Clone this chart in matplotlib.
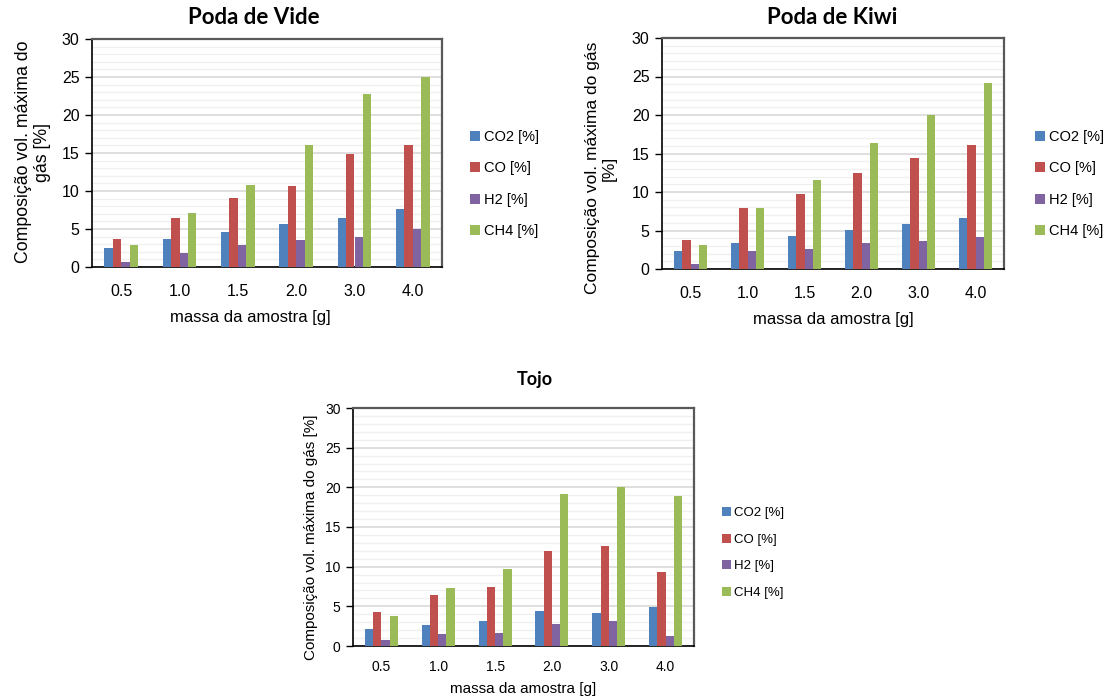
import numpy as np
import matplotlib.pyplot as plt

# massas das amostras (categorias do eixo x)
massas = ['0.5', '1.0', '1.5', '2.0', '3.0', '4.0']
gases = ['CO2 [%]', 'CO [%]', 'H2 [%]', 'CH4 [%]']
cores = ['#4F81BD', '#C0504D', '#8064A2', '#9BBB59']

# Poda de Vide
vide_co2 = [2.5, 3.7, 4.6, 5.7, 6.4, 7.6]
vide_co = [3.7, 6.4, 9.1, 10.7, 14.9, 16.1]
vide_h2 = [0.6, 1.8, 2.9, 3.5, 4.0, 5.0]
vide_ch4 = [2.9, 7.1, 10.8, 16.1, 22.8, 25.0]

# Poda de Kiwi
kiwi_co2 = [2.3, 3.4, 4.3, 5.1, 5.8, 6.6]
kiwi_co = [3.8, 7.9, 9.7, 12.5, 14.4, 16.1]
kiwi_h2 = [0.7, 2.4, 2.6, 3.4, 3.7, 4.1]
kiwi_ch4 = [3.1, 7.9, 11.6, 16.3, 20.0, 24.2]

# Tojo
tojo_co2 = [2.1, 2.6, 3.2, 4.4, 4.2, 4.9]
tojo_co = [4.3, 6.4, 7.4, 12.0, 12.6, 9.3]
tojo_h2 = [0.8, 1.5, 1.6, 2.8, 3.2, 1.3]
tojo_ch4 = [3.8, 7.3, 9.7, 19.1, 20.0, 18.9]

W, H = 1108, 699
plt.rcParams['font.family'] = ['Liberation Sans', 'DejaVu Sans']

fig = plt.figure(figsize=(W / 100, H / 100), dpi=100)


def px_axes(l, t, r, b):
    """Cria eixos a partir de coordenadas em pixeis (esq, topo, dir, baixo)."""
    return fig.add_axes([l / W, 1 - b / H, (r - l) / W, (b - t) / H])


def bar_chart(ax, series, fs_tick, fs_label):
    x = np.arange(len(massas))
    w = 0.145
    for i, (vals, cor) in enumerate(zip(series, cores)):
        ax.bar(x + (i - 1.5) * w, vals, width=w, color=cor, label=gases[i], zorder=3)
    ax.set_xlim(-0.5, len(massas) - 0.5)
    ax.set_ylim(0, 30)
    ax.set_yticks(np.arange(0, 31, 5))
    ax.set_yticks(np.arange(0, 31, 1), minor=True)
    ax.grid(axis='y', which='major', color='#d9d9d9', linewidth=1.2, zorder=0)
    ax.grid(axis='y', which='minor', color='#f0f0f0', linewidth=1.0, zorder=0)
    ax.set_xticks(x)
    ax.set_xticklabels(massas)
    ax.tick_params(axis='x', length=0, pad=12, labelsize=fs_tick)
    ax.tick_params(axis='y', which='major', length=5, width=1, direction='out', labelsize=fs_tick, pad=4)
    ax.tick_params(axis='y', which='minor', length=0)
    for s in ['top', 'right']:
        ax.spines[s].set_color('#595959')
        ax.spines[s].set_linewidth(1.6)
    for s in ['left', 'bottom']:
        ax.spines[s].set_color('black')
        ax.spines[s].set_linewidth(1.2)
    ax.set_xlabel('massa da amostra [g]', fontsize=fs_label, labelpad=8)


def legenda(ax, x_px, y_px, fs, esp):
    ax.legend(loc='center left', bbox_to_anchor=(x_px / W, 1 - y_px / H),
              bbox_transform=fig.transFigure, frameon=False, fontsize=fs,
              handlelength=0.7, handleheight=0.7, handletextpad=0.25, labelspacing=esp)


# Poda de Vide
ax1 = px_axes(92, 39, 442, 267)
bar_chart(ax1, [vide_co2, vide_co, vide_h2, vide_ch4], 11.5, 12)
ax1.xaxis.set_label_coords((250 - 92) / (442 - 92), -0.19)
ax1.xaxis.label.set_va('top')
fig.text(254 / W, 1 - 18 / H, 'Poda de Vide', ha='center', va='center',
         fontsize=16, fontweight='bold', family=['Lato', 'DejaVu Sans'])
fig.text(33 / W, 1 - 152 / H, 'Composição vol. máxima do\ngás [%]', rotation=90,
         ha='center', va='center', fontsize=12.8, linespacing=1.2)
legenda(ax1, 457, 184, 10.5, 1.2)

# Poda de Kiwi
ax2 = px_axes(662, 38, 1004, 269)
bar_chart(ax2, [kiwi_co2, kiwi_co, kiwi_h2, kiwi_ch4], 11.5, 12)
fig.text(832 / W, 1 - 18 / H, 'Poda de Kiwi', ha='center', va='center',
         fontsize=16, fontweight='bold', family=['Lato', 'DejaVu Sans'])
fig.text(601 / W, 1 - 168 / H, 'Composição vol. máxima do gás\n[%]', rotation=90,
         ha='center', va='center', fontsize=12.5, linespacing=1.15)
legenda(ax2, 1022, 184, 10.5, 1.2)

# Tojo
ax3 = px_axes(353, 408, 694, 646)
bar_chart(ax3, [tojo_co2, tojo_co, tojo_h2, tojo_ch4], 10, 11)
ax3.xaxis.labelpad = 6
ax3.tick_params(axis='x', pad=10)
fig.text(535 / W, 1 - 380 / H, 'Tojo', ha='center', va='center',
         fontsize=13, fontweight='bold', family=['Lato', 'DejaVu Sans'])
fig.text(311 / W, 1 - 537 / H, 'Composição vol. máxima do gás [%]', rotation=90,
         ha='center', va='center', fontsize=11)
legenda(ax3, 710, 553, 9.5, 1.1)

fig.savefig('out.png', dpi=100)
